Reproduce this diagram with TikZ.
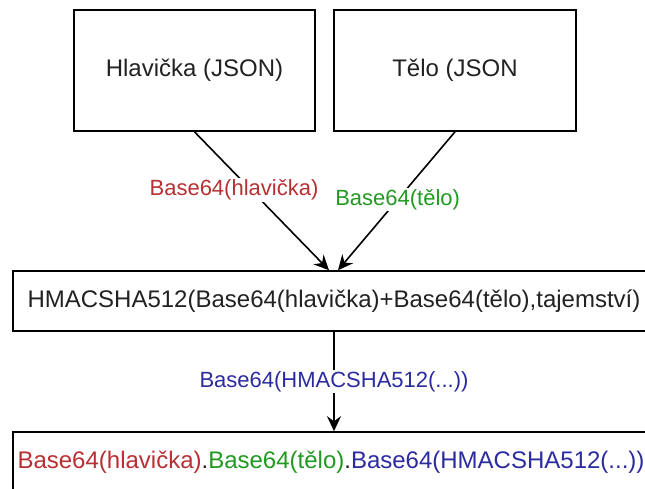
\documentclass[tikz,border=0pt]{standalone}
\usepackage{fontspec}
\setmainfont{Liberation Sans}
\usetikzlibrary{arrows.meta}
\definecolor{hdrred}{RGB}{184,48,52}
\definecolor{bodygreen}{RGB}{34,154,34}
\definecolor{sigblue}{RGB}{44,44,160}
\definecolor{ink}{RGB}{34,34,34}
\tikzset{
  box/.style={draw=black, line width=1.6pt, fill=white, inner sep=0pt,
    text=ink, font=\fontsize{24}{28}\selectfont},
  arr/.style={draw=black, line width=1.6pt,
    -{Stealth[length=15pt, width=14pt, inset=5pt]}},
  lbl/.style={fill=white, inner sep=1.5pt, font=\fontsize{22}{26}\selectfont}
}
\begin{document}
\begin{tikzpicture}[x=1pt, y=-1pt]
  \clip (0,0) rectangle (645,488);
  \fill[white] (0,0) rectangle (645,488);

  % JSON parts
  \node[box, minimum width=241pt, minimum height=121pt] (hdr) at (194.5,70.5) {Hlavička (JSON)};
  \node[box, minimum width=242pt, minimum height=121pt] (body) at (455,70.5) {Tělo (JSON};

  % signature computation
  \node[box, minimum width=642pt, minimum height=60pt] (mac) at (334,301)
    {HMACSHA512(Base64(hlavička)+Base64(tělo),tajemství)};

  % resulting token
  \node[box, minimum width=636pt, minimum height=60pt] (tok) at (331,462)
    {\textcolor{hdrred}{Base64(hlavička)}.\textcolor{bodygreen}{Base64(tělo)}.\textcolor{sigblue}{Base64(HMACSHA512(...))}};

  % encoded inputs
  \draw[arr] (hdr.south) -- ([xshift=-5pt]mac.north)
    node[lbl, text=hdrred, pos=0.42, xshift=-17pt] {Base64(hlavička)};
  \draw[arr] (body.south) -- ([xshift=4pt]mac.north)
    node[lbl, text=bodygreen, pos=0.49] {Base64(tělo)};

  % signature encoding
  \draw[arr] (mac.south) -- ([xshift=3pt]tok.north)
    node[lbl, text=sigblue, pos=0.5] {Base64(HMACSHA512(...))};
\end{tikzpicture}
\end{document}
